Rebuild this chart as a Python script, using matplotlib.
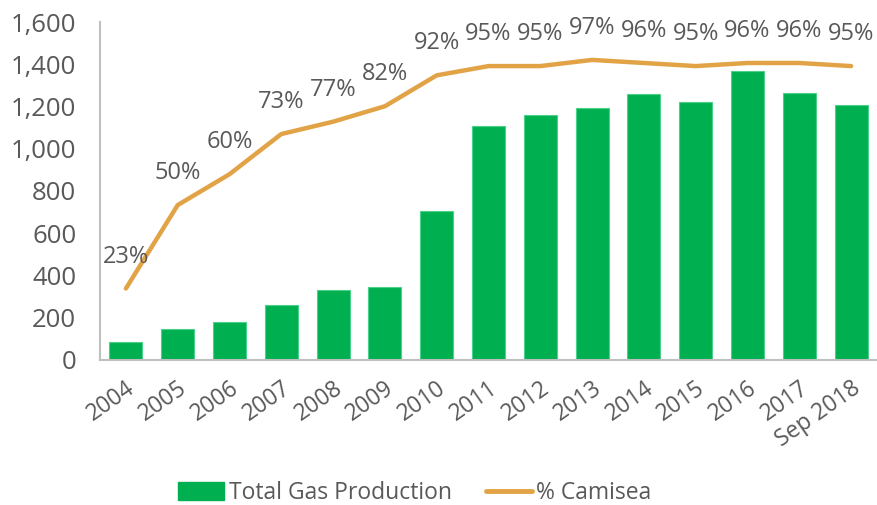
import matplotlib
matplotlib.use("Agg")
import matplotlib.pyplot as plt
from matplotlib.patches import Patch
from matplotlib.lines import Line2D
from matplotlib.ticker import FuncFormatter

plt.rcParams['font.family'] = ['Open Sans', 'DejaVu Sans']

categories = ["2004", "2005", "2006", "2007", "2008", "2009", "2010", "2011",
              "2012", "2013", "2014", "2015", "2016", "2017", "Sep 2018"]
gas_production = [85, 147, 176, 261, 328, 342, 703, 1106, 1158, 1192, 1260,
                  1220, 1367, 1262, 1206]
camisea_pct = [23, 50, 60, 73, 77, 82, 92, 95, 95, 97, 96, 95, 96, 96, 95]

BAR_COLOR = "#00B050"
LINE_COLOR = "#E2A346"
TEXT_COLOR = "#595959"
SPINE_COLOR = "#BFBFBF"

fig = plt.figure(figsize=(8.77, 5.05), dpi=100)
ax = fig.add_axes([0.114, 0.288, 0.886, 0.668])
x = list(range(len(categories)))
ax.bar(x, gas_production, width=0.64, color=BAR_COLOR, edgecolor="#4CD08A",
       linewidth=0.8, zorder=2)
ax.set_ylim(0, 1600)
ax.set_xlim(-0.5, len(categories) - 0.5)
ax.set_yticks(range(0, 1601, 200))
ax.yaxis.set_major_formatter(FuncFormatter(lambda v, p: f"{int(v):,}"))
ax.tick_params(axis='y', length=0, labelsize=18.5, labelcolor=TEXT_COLOR, pad=17)
ax.set_xticks(x)
ax.set_xticklabels(categories, rotation=35, ha='right', rotation_mode='anchor',
                   fontsize=16.5, color=TEXT_COLOR)
ax.tick_params(axis='x', length=0, pad=12)
for s in ['top', 'right']:
    ax.spines[s].set_visible(False)
for s in ['left', 'bottom']:
    ax.spines[s].set_color(SPINE_COLOR)
    ax.spines[s].set_linewidth(1.5)

ax2 = ax.twinx()
ax2.set_ylim(0, 109.2)
ax2.plot(x, camisea_pct, color=LINE_COLOR, linewidth=3.2, solid_capstyle='round',
         zorder=3)
ax2.axis('off')
for xi, v in zip(x, camisea_pct):
    ax2.annotate(f"{v}%", (xi, v), xytext=(0, 23), textcoords='offset points',
                 ha='center', va='center', fontsize=17, color=TEXT_COLOR)

handles = [Patch(facecolor=BAR_COLOR, edgecolor=BAR_COLOR),
           Line2D([0], [0], color=LINE_COLOR, linewidth=3.5, solid_capstyle='round')]
fig.legend(handles, ["Total Gas Production", "% Camisea"], loc='center',
           bbox_to_anchor=(0.473, 0.024), ncol=2, frameon=False, fontsize=16.5,
           labelcolor=TEXT_COLOR, handlelength=2.0, handleheight=0.8,
           handletextpad=0.2, columnspacing=1.5)

fig.savefig("out.png", dpi=100)
